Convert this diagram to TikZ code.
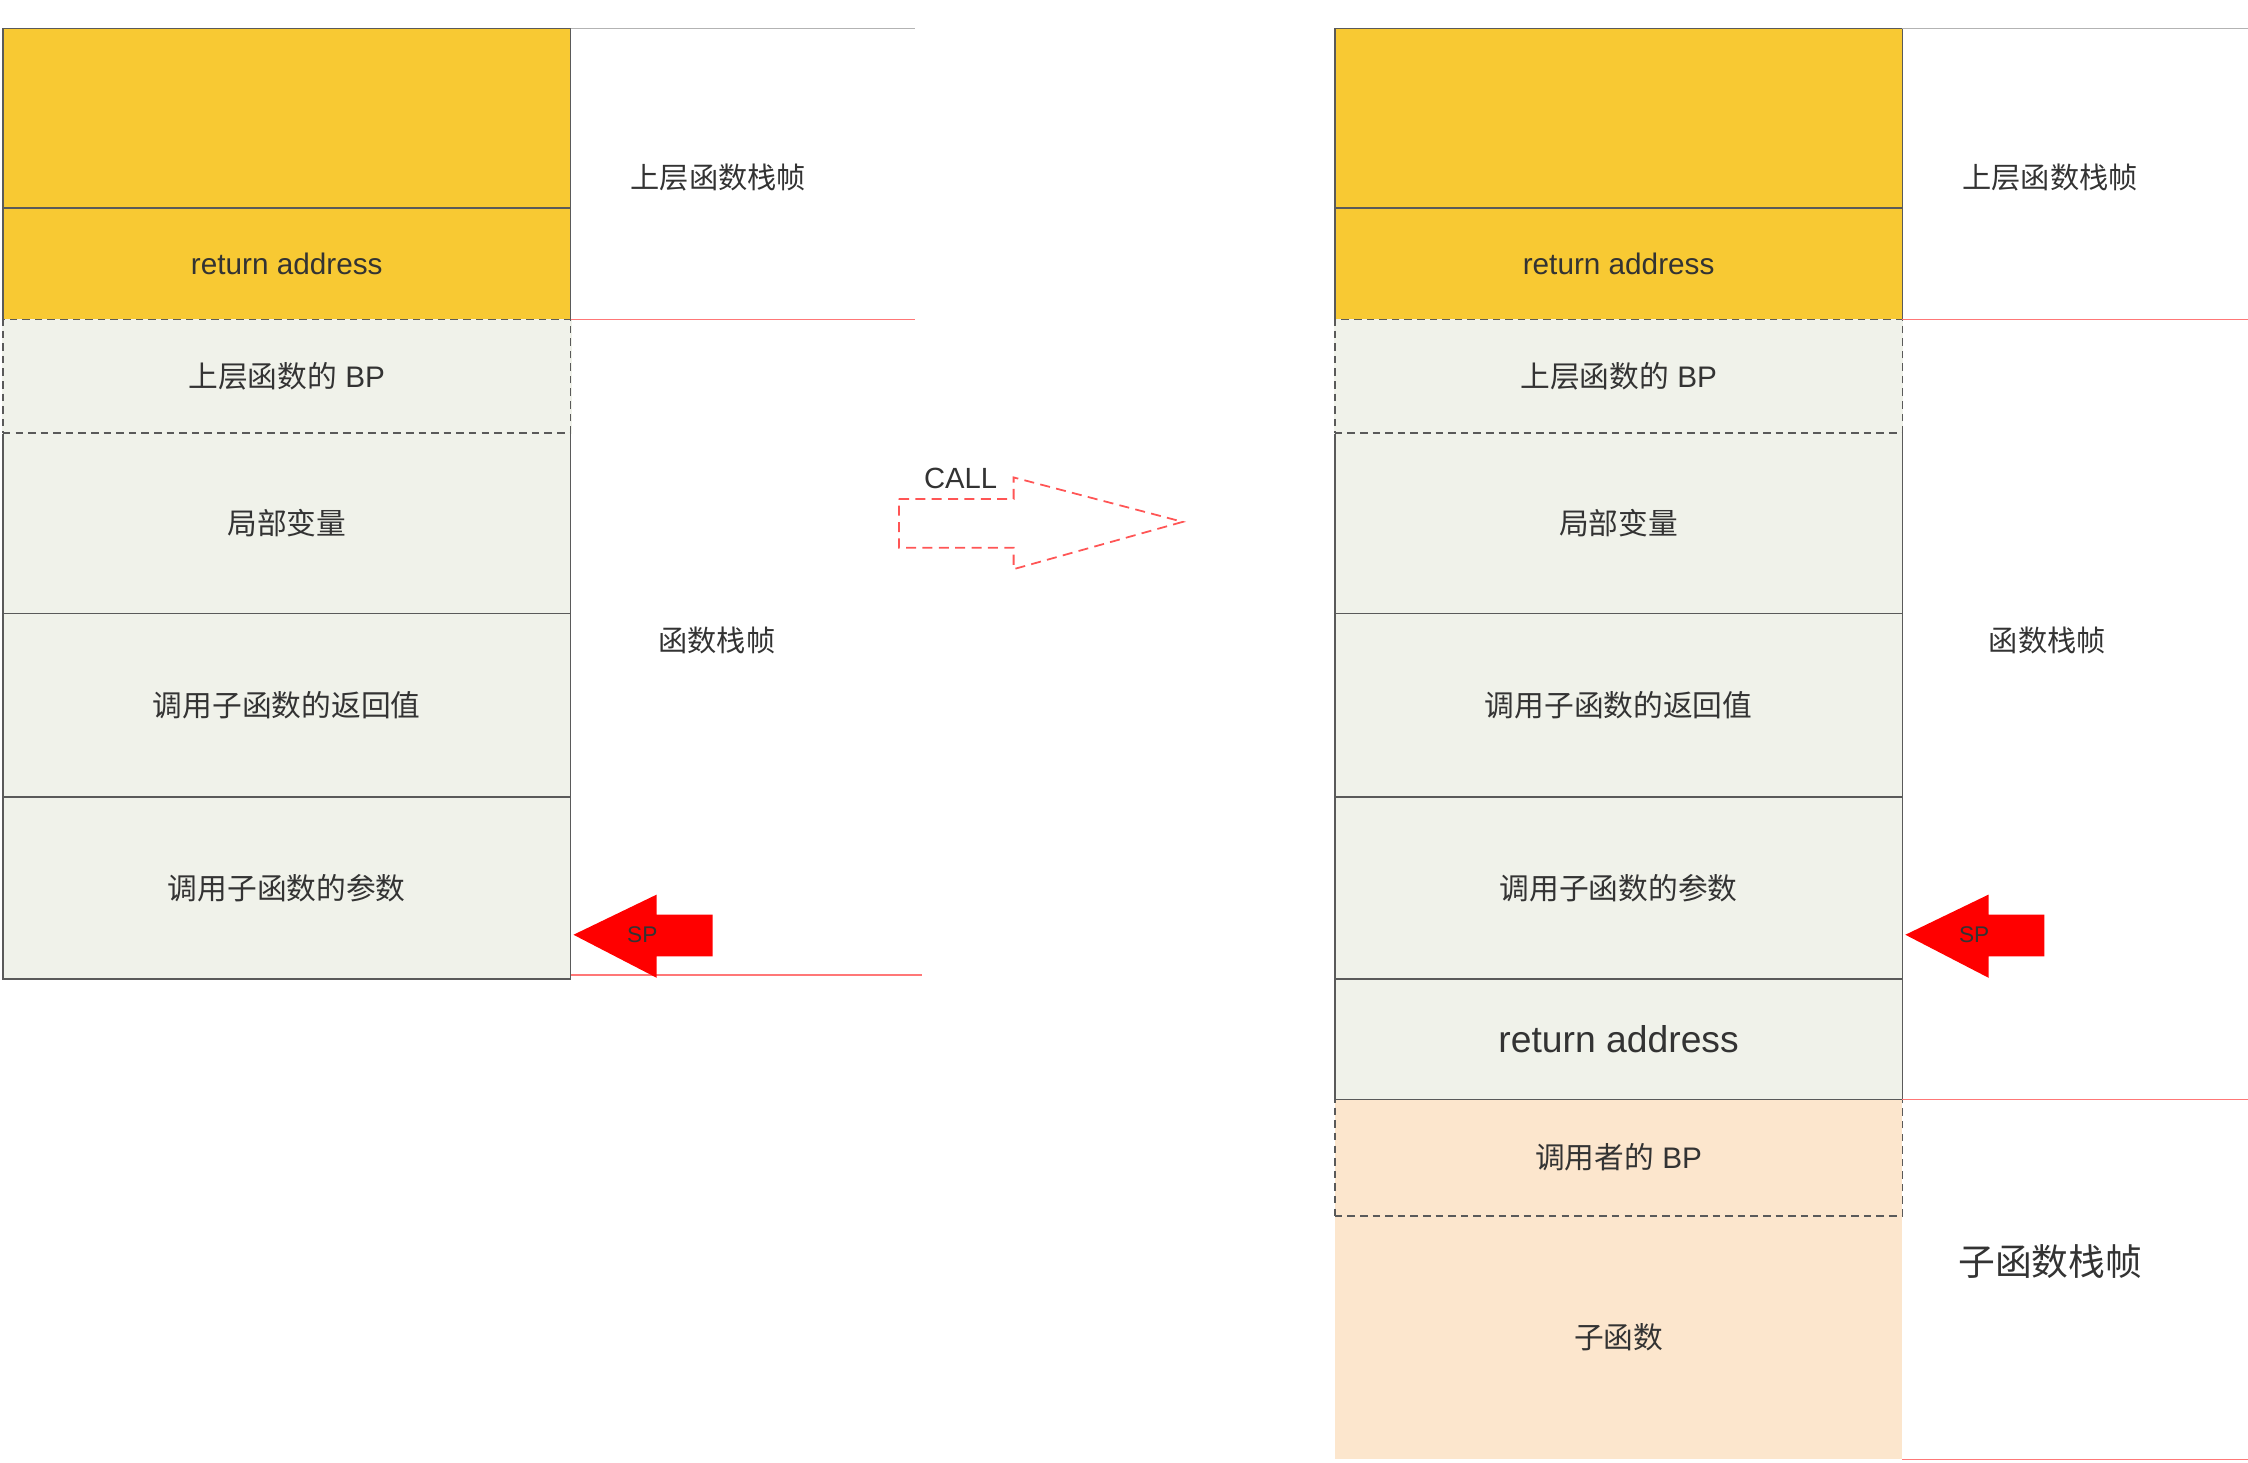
\documentclass[tikz,border=0pt]{standalone}
\usepackage{fontspec}
\setmainfont{Liberation Sans}
\newfontfamily\cjkfont{Noto Sans CJK SC}
\definecolor{frameyellow}{HTML}{F8C933}
\definecolor{cellgray}{HTML}{F0F2EA}
\definecolor{childpeach}{HTML}{FCE6CD}
\definecolor{cellborder}{HTML}{5A5A5A}
\definecolor{textgray}{HTML}{333333}
\definecolor{sepred}{HTML}{FF7777}
\definecolor{sepgray}{HTML}{B3B3B3}
\definecolor{callred}{HTML}{FF5555}
\begin{document}
\begin{tikzpicture}[x=0.02cm, y=-0.02cm,
    cell/.style={rectangle, draw=cellborder, line width=0.6pt, fill=cellgray, minimum width=7.92cm, inner sep=0pt, outer sep=0pt, text=textgray, font=\fontsize{11.8}{14}\selectfont},
    upper/.style={cell, fill=frameyellow},
    savedbp/.style={cell, dash pattern=on 3pt off 2pt, preaction={draw=cellgray, solid, line width=0.8pt}},
    child/.style={cell, fill=childpeach},
    framelabel/.style={text=textgray, font=\fontsize{11.6}{14}\selectfont\cjkfont},
    sepline/.style={draw=sepred, line width=0.6pt},
    topline/.style={draw=sepgray, line width=0.6pt},
    sparrow/.style={fill=red, draw=none},
    sptext/.style={text=textgray, font=\fontsize{9}{10}\selectfont},
    callarrow/.style={draw=callred, line width=0.7pt, dash pattern=on 4pt off 2.5pt}
]
    \useasboundingbox (0,0) rectangle (1568,1020);

    % Left side: stack before the call
    \node[upper, minimum height=2.5cm] (lprev) at (200,82.5) {};
    \node[upper, minimum height=1.56cm] (lret) at (200,184) {return address};
    \node[cell, minimum height=2.52cm] (llocal) at (200,365) {\cjkfont 局部变量};
    \node[savedbp, minimum height=1.58cm] (lbp) at (200,262.5) {{\cjkfont 上层函数的} BP};
    \node[cell, minimum height=2.56cm] (lretval) at (200,492) {\cjkfont 调用子函数的返回值};
    \node[cell, minimum height=2.54cm] (largs) at (200,619.5) {\cjkfont 调用子函数的参数};

    \draw[topline] (lprev.north east) -- ++(240,0);
    \draw[sepline] (lret.south east) -- ++(240,0);
    \draw[sepline] (398,680) -- (643,680);
    \node[framelabel] (lupper) at (501,124) {上层函数栈帧};
    \node[framelabel] (lframe) at (500,447) {函数栈帧};

    \fill[sparrow] (400,652) -- (458,624) -- (458,638) -- (497,638) -- (497,667) -- (458,667) -- (458,682) -- cycle;
    \node[sptext] (lsp) at (448,652) {SP};

    % CALL arrow
    \draw[callarrow] (627,348) -- (707,348) -- (707,333) -- (825,364) -- (707,397) -- (707,382) -- (627,382) -- cycle;
    \node[text=textgray, font=\fontsize{11.6}{14}\selectfont] (call) at (670,334) {CALL};

    % Right side: stack after the call
    \node[upper, minimum height=2.5cm] (rprev) at (1129,82.5) {};
    \node[upper, minimum height=1.56cm] (rret) at (1129,184) {return address};
    \node[cell, minimum height=2.52cm] (rlocal) at (1129,365) {\cjkfont 局部变量};
    \node[savedbp, minimum height=1.58cm] (rbp) at (1129,262.5) {{\cjkfont 上层函数的} BP};
    \node[cell, minimum height=2.56cm] (rretval) at (1129,492) {\cjkfont 调用子函数的返回值};
    \node[cell, minimum height=2.54cm] (rargs) at (1129,619.5) {\cjkfont 调用子函数的参数};
    \node[cell, minimum height=1.68cm, font=\fontsize{14.8}{17}\selectfont] (rret2) at (1129,725) {return address};
    \node[child, draw=none, minimum height=3.4cm] (rsub) at (1129,933) {\cjkfont 子函数};
    \node[child, dash pattern=on 3pt off 2pt, minimum height=1.62cm] (rcallerbp) at (1129,807.5) {{\cjkfont 调用者的} BP};

    \draw[topline] (rprev.north east) -- ++(241,0);
    \draw[sepline] (rret.south east) -- ++(241,0);
    \draw[sepline] (rret2.south east) -- ++(241,0);
    \draw[sepline] (rsub.south east) -- ++(241,0);
    \node[framelabel] (rupper) at (1430,124) {上层函数栈帧};
    \node[framelabel] (rframe) at (1428,447) {函数栈帧};
    \node[framelabel, font=\fontsize{14.6}{17}\selectfont\cjkfont] (rchild) at (1430,880) {子函数栈帧};

    \fill[sparrow] (1329,652) -- (1387,624) -- (1387,638) -- (1426,638) -- (1426,667) -- (1387,667) -- (1387,682) -- cycle;
    \node[sptext] (rsp) at (1377,652) {SP};
\end{tikzpicture}
\end{document}
